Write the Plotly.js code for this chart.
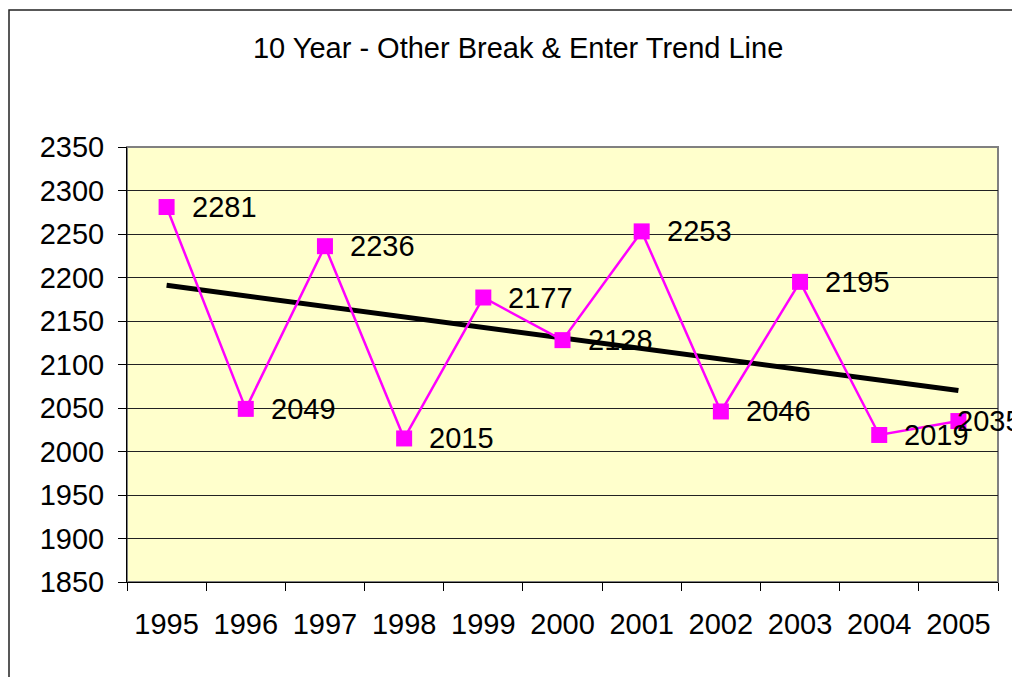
<!DOCTYPE html>
<html>
<head>
<meta charset="utf-8">
<script src="https://cdn.plot.ly/plotly-3.0.1.min.js"></script>
<style>
html,body{margin:0;padding:0;background:#fff;}
#chart{width:1012px;height:677px;}
</style>
</head>
<body>
<div id="chart"></div>
<script>
var years = ['1995','1996','1997','1998','1999','2000','2001','2002','2003','2004','2005'];
var incidents = [2281, 2049, 2236, 2015, 2177, 2128, 2253, 2046, 2195, 2019, 2035];
var trendYears = ['1995', '2005'];
var trendValues = [2191, 2070];
var yTicks = [1850,1900,1950,2000,2050,2100,2150,2200,2250,2300,2350];

var FONT = 'Liberation Sans, Arial, sans-serif';
var FS = 29;

var dataTrace = {
  x: years, y: incidents, type: 'scatter', mode: 'lines+markers',
  line: {color: '#FF00FF', width: 2.5},
  marker: {symbol: 'square', size: 16, color: '#FF00FF'},
  hoverinfo: 'skip', cliponaxis: false
};
var trendTrace = {
  x: trendYears, y: trendValues, type: 'scatter', mode: 'lines',
  line: {color: '#000000', width: 5},
  hoverinfo: 'skip'
};

var annotations = [];
for (var i = 0; i < years.length; i++) {
  annotations.push({
    x: i, y: incidents[i], xref: 'x', yref: 'y',
    text: String(incidents[i]), showarrow: false,
    xanchor: 'left', yanchor: 'middle',
    xshift: (i === years.length - 1) ? -3 : 23,
    font: {family: FONT, size: FS, color: '#000000'}
  });
}

var layout = {
  width: 1012, height: 677,
  margin: {l: 127, r: 14, t: 147, b: 95},
  paper_bgcolor: '#FFFFFF',
  plot_bgcolor: '#FFFFCC',
  showlegend: false,
  title: {text: '10 Year - Other Break &amp; Enter Trend Line',
          font: {family: FONT, size: FS, color: '#000'},
          x: 0.512, xanchor: 'center', y: 0.93, yanchor: 'middle'},
  xaxis: {
    type: 'category', categoryorder: 'array', categoryarray: years,
    range: [-0.5, 10.5],
    tickson: 'boundaries', ticks: 'outside', ticklen: 8, tickcolor: '#000', tickwidth: 1,
    showline: true, linecolor: '#000', linewidth: 1,
    showgrid: false, zeroline: false,
    tickfont: {family: FONT, size: FS, color: '#000'},
    ticklabelstandoff: 16, fixedrange: true
  },
  yaxis: {
    range: [1850, 2350], tickvals: yTicks, ticktext: yTicks.map(String),
    ticks: 'outside', ticklen: 8, tickcolor: '#000', tickwidth: 1,
    showline: true, linecolor: '#000', linewidth: 1,
    showgrid: true, gridcolor: '#222222', gridwidth: 1,
    zeroline: false,
    tickfont: {family: FONT, size: FS, color: '#000'},
    ticklabelstandoff: 8, fixedrange: true
  },
  shapes: [
    {type: 'rect', xref: 'paper', yref: 'paper', x0: 0, x1: 1, y0: 0, y1: 1,
     line: {color: '#808080', width: 2}, layer: 'below'},
    {type: 'rect', xref: 'paper', yref: 'paper',
     x0: (9 - 127) / 871, x1: 1.05, y0: -0.25, y1: (582 - 10) / 435,
     line: {color: '#222', width: 1.5}, fillcolor: 'rgba(0,0,0,0)', layer: 'above'}
  ],
  annotations: annotations
};

Plotly.newPlot('chart', [trendTrace, dataTrace], layout, {staticPlot: true, displayModeBar: false});
</script>
</body>
</html>
